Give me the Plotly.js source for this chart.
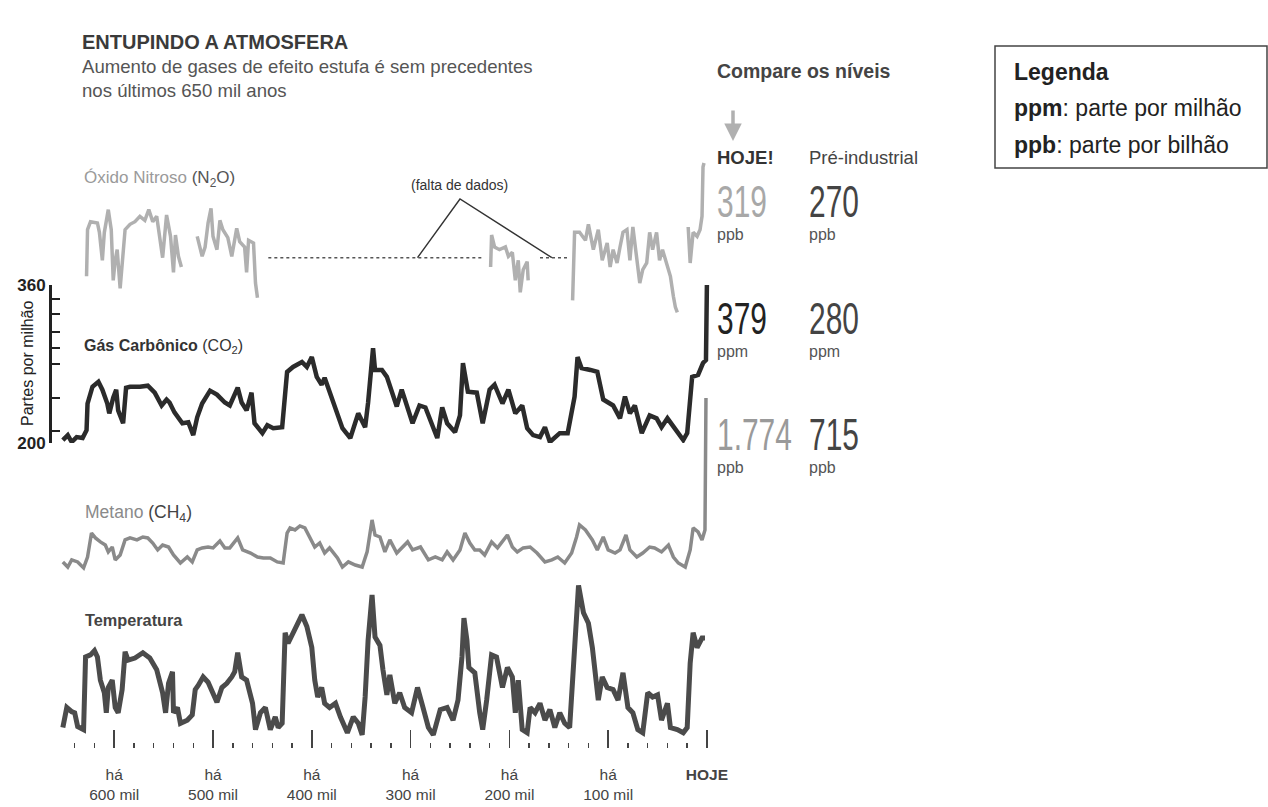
<!DOCTYPE html>
<html>
<head>
<meta charset="utf-8">
<script src="https://cdn.plot.ly/plotly-3.0.1.min.js"></script>
<style>html,body{margin:0;padding:0;background:#fff;}#chart{width:1268px;height:807px;}</style>
</head>
<body>
<div id="chart"></div>
<script>
// ---------- DATA (thousand years ago / values) ----------
const co2Kyr = [652,647,643,638,632,628,627,622,616,612,607,605,601,598,596,591,588,584,574,566,559,552,547,544,539,531,525,520,516,511,503,496,488,483,475,471,466,461,458,450,445,439,430,425,419,410,405,400,395,390,387,379,369,361,353,346,343,338,336,329,324,314,309,298,291,285,273,268,263,255,250,247,242,233,227,220,215,207,201,194,187,182,176,169,164,159,149,141,134,131,127,118,111,105,95,88,83,78,73,66,58,51,46,40,32,24,20,15,9,4,1,0];
const co2Ppm = [203,208,201,206,205,213,240,257,262,254,240,230,246,254,233,220,256,257,257,258,251,238,244,241,231,220,221,208,226,240,253,249,241,238,256,241,233,251,220,210,218,215,216,272,277,282,277,287,267,259,266,243,215,205,230,216,241,296,274,274,267,237,254,220,238,236,205,236,220,211,228,281,252,251,220,254,259,240,254,230,238,215,208,206,216,201,210,210,247,287,276,274,272,244,238,225,247,230,238,210,228,225,216,225,213,203,210,267,269,281,284,365];

const n2oKyr = [628,627,624,617,615,612,610,607,606,603,601,599,597,594,591,589,584,579,574,569,565,561,557,554,551,547,543,540,538,535,532,null,
  516,511,508,505,502,500,496,493,490,485,481,476,473,468,466,464,459,457,455,null,
  219,218,215,210,204,201,197,194,191,189,186,182,181,null,
  136,134,129,123,120,115,110,106,101,98,95,91,88,85,81,78,75,71,68,65,61,58,55,51,48,45,40,37,34,32,30,null,
  19,17,14,10,7,5,4,3];
const n2oPpb = [235,270,276,275,268,247,268,280,285,270,232,247,255,226,255,270,274,276,280,277,285,276,280,265,249,281,265,238,266,250,242,null,
  265,250,257,275,286,265,255,277,270,264,250,271,261,257,238,262,260,230,219,null,
  242,266,257,255,257,250,253,232,247,223,240,246,232,null,
  217,268,268,262,274,255,270,247,260,242,255,245,257,268,270,247,272,247,230,240,245,268,255,268,247,255,242,235,220,212,208,null,
  272,245,268,265,270,280,317,320];
// missing-data stretches of the N2O record
const gapKyr = [444,227,null,169,141];
const gapPpb = [249,249,null,249,249];
const pointerKyr = [293,250,157];
const pointerPpb = [249,293,249];

const ch4Kyr = [652,647,643,637,631,627,623,619,614,609,606,602,599,594,589,584,577,571,566,561,556,551,545,540,533,526,521,516,511,505,500,493,488,483,475,470,462,455,449,442,435,429,425,422,417,412,407,402,397,392,387,382,374,369,363,356,349,344,339,336,331,326,321,314,303,298,290,282,275,268,263,257,250,245,240,235,230,225,218,212,202,197,192,186,179,172,164,157,151,144,137,132,129,123,116,111,105,100,93,88,82,78,71,65,58,53,46,39,34,29,22,17,14,9,5,2,1];
const ch4Ppb = [393,365,404,393,360,420,552,525,503,486,448,475,404,431,514,525,514,530,525,497,459,486,475,431,387,420,393,459,470,475,470,508,470,470,525,459,442,420,415,415,393,387,552,580,569,591,580,530,475,497,442,470,415,365,393,376,365,448,624,541,530,448,514,442,503,459,475,404,420,404,448,404,459,552,497,459,459,431,503,470,541,475,448,470,475,442,393,404,420,387,442,530,596,569,514,459,530,459,442,459,541,459,420,442,475,470,448,486,420,387,365,459,580,558,514,569,1295];

const tKyr = [652,648,643,640,637,631,629,624,620,617,614,610,608,606,602,599,596,592,589,586,579,571,564,557,551,548,545,541,540,536,533,526,521,518,515,510,505,500,496,491,486,481,478,475,471,466,460,457,452,447,442,437,434,430,427,424,419,414,410,405,400,397,394,390,387,382,376,371,364,358,353,349,346,343,339,336,331,328,324,321,316,311,306,299,293,288,282,277,270,263,257,252,248,246,243,241,235,230,227,223,218,213,207,202,197,194,191,187,182,179,174,169,164,159,154,149,144,139,136,132,130,125,120,116,113,110,106,101,95,90,85,80,75,70,65,60,55,50,46,40,37,30,24,20,17,14,10,5,2];
const tVal = [-8.6,-6.7,-7.1,-7.2,-8.5,-8.8,-1.9,-1.7,-1.3,-1.9,-4.1,-5.3,-7.2,-4.8,-4.1,-6.7,-7.2,-5.0,-1.4,-2.2,-2.0,-1.5,-2.0,-3.1,-5.3,-7.2,-4.4,-3.3,-7.2,-6.7,-8.2,-7.9,-7.4,-5.0,-4.6,-3.8,-4.3,-5.3,-6.2,-4.8,-4.4,-3.8,-3.3,-1.5,-3.8,-4.1,-6.3,-8.8,-7.2,-6.7,-8.8,-7.6,-8.6,-8.2,0.4,-0.6,0.4,1.3,2.1,1.0,-1.0,-4.1,-5.7,-4.8,-6.3,-6.7,-6.3,-7.6,-9.1,-7.6,-8.2,-9.3,-5.7,-0.3,4.0,0.0,-0.8,-3.1,-5.5,-3.6,-6.3,-5.3,-6.7,-7.2,-4.8,-6.5,-8.6,-9.3,-6.9,-6.7,-7.9,-6.0,-1.9,1.8,-0.3,-2.9,-3.4,-7.2,-8.8,-6.0,-1.7,-1.9,-4.8,-2.9,-3.8,-7.2,-4.1,-8.8,-9.1,-6.7,-7.2,-6.3,-7.9,-6.9,-8.6,-7.2,-8.2,-8.6,-4.1,2.9,4.9,2.3,1.3,-1.0,-3.4,-6.0,-3.8,-4.8,-5.0,-6.0,-3.4,-6.7,-7.2,-8.8,-9.1,-5.3,-5.7,-5.5,-7.9,-6.3,-8.6,-8.8,-9.1,-8.6,-2.5,0.4,-1.0,-0.1,-0.1];

// axis ticks
const xMajorVals = [600,500,400,300,200,100,0];
const xMajorText = ['há<br>600 mil','há<br>500 mil','há<br>400 mil','há<br>300 mil','há<br>200 mil','há<br>100 mil','<b>HOJE</b>'];
const xMinorVals = [640,620,580,560,540,520,480,460,440,420,380,360,340,320,280,260,240,220,180,160,140,120,80,60,40,20];
const co2TickVals = [200,360];
const co2TickText = ['<b>200</b>','<b>360</b>'];
const co2MinorVals = [212,246,280,296,312,331,346];

// comparison table
const hojeVals = ['319','379','1.774'];
const preVals = ['270','280','715'];
const units = ['ppb','ppm','ppb'];

// ---------- LAYOUT HELPERS ----------
const L = 50, R = 720, T = 150, B = 748;
const px = x => (x - L) / (R - L);
const py = y => (B - y) / (B - T);
const FONT = 'Liberation Sans, Arial, sans-serif';

const traces = [
  {x: gapKyr, y: gapPpb, yaxis: 'y', mode: 'lines', line: {color: '#555', width: 1.5, dash: 'dot'}, connectgaps: false},
  {x: pointerKyr, y: pointerPpb, yaxis: 'y', mode: 'lines', line: {color: '#333', width: 1.4}},
  {x: n2oKyr, y: n2oPpb, yaxis: 'y', mode: 'lines', line: {color: '#b0b0b0', width: 3.5}, connectgaps: false},
  {x: co2Kyr, y: co2Ppm, yaxis: 'y2', mode: 'lines', line: {color: '#2b2b2b', width: 4.5}},
  {x: ch4Kyr, y: ch4Ppb, yaxis: 'y3', mode: 'lines', line: {color: '#8a8a8a', width: 3.5}},
  {x: tKyr, y: tVal, yaxis: 'y4', mode: 'lines', line: {color: '#4b4b4b', width: 5}}
];

function txt(x, y, text, size, color, extra) {
  return Object.assign({xref: 'paper', yref: 'paper', x: px(x), y: py(y), text: text, showarrow: false,
    xanchor: 'left', yanchor: 'middle', align: 'left', font: {family: FONT, size: size, color: color}}, extra || {});
}

const ann = [
  txt(80, 42, '<b>ENTUPINDO A ATMOSFERA</b>', 20, '#3a3a3a'),
  txt(80, 78, 'Aumento de gases de efeito estufa é sem precedentes<br>nos últimos 650 mil anos', 18.6, '#555'),
  txt(82, 179, 'Óxido Nitroso <span style="color:#555">(N<sub>2</sub>O)</span>', 17, '#9a9a9a'),
  txt(82, 346, '<b>Gás Carbônico</b> (CO<sub>2</sub>)', 16, '#333'),
  txt(83, 513, 'Metano <span style="color:#444">(CH<sub>4</sub>)</span>', 17.5, '#8a8a8a'),
  txt(83, 620, '<b>Temperatura</b>', 16.3, '#444'),
  txt(459, 185, '(falta de dados)', 14, '#333', {xanchor: 'center'}),
  txt(27, 364, 'Partes por milhão', 16, '#222', {xanchor: 'center', textangle: -90}),
  txt(715, 71, '<b>Compare os níveis</b>', 19.5, '#444'),
  {xref: 'paper', yref: 'paper', x: px(733), y: py(141), ax: 0, ay: -32, axref: 'pixel', ayref: 'pixel',
   showarrow: true, arrowhead: 2, arrowsize: 1, arrowwidth: 3.5, arrowcolor: '#b0b0b0', text: ''},
  txt(715, 157, '<b>HOJE!</b>', 18.5, '#333'),
  txt(807, 157, 'Pré-industrial', 18.5, '#444'),
  txt(1012, 72, '<b>Legenda</b>', 23, '#222'),
  txt(1012, 108, '<b>ppm</b>: parte por milhão', 23, '#222'),
  txt(1012, 145, '<b>ppb</b>: parte por bilhão', 23, '#222')
];
const rowY = [201, 318, 434];
const hojeColors = ['#a8a8a8', '#222', '#9a9a9a'];
hojeVals.forEach((v, i) => {
  ann.push(txt(715, rowY[i], v, 44, hojeColors[i]));
  ann.push(txt(715, rowY[i] + 33, units[i], 16, '#555'));
  ann.push(txt(807, rowY[i], preVals[i], 44, '#444'));
  ann.push(txt(807, rowY[i] + 33, units[i], 16, '#555'));
});

const layout = {
  width: 1268, height: 807,
  margin: {l: L, r: 1268 - R, t: T, b: 807 - B, pad: 0},
  paper_bgcolor: '#ffffff', plot_bgcolor: 'rgba(0,0,0,0)',
  showlegend: false, hovermode: false,
  font: {family: FONT, color: '#444'},
  xaxis: {
    range: [665, -13.2], anchor: 'y4', showgrid: false, zeroline: false, showline: false,
    tickmode: 'array', tickvals: xMajorVals, ticktext: xMajorText,
    ticks: 'inside', ticklen: 18, tickwidth: 1.5, tickcolor: '#444',
    tickfont: {family: FONT, size: 15.5, color: '#444'}, ticklabelstandoff: 15,
    minor: {tickmode: 'array', tickvals: xMinorVals, ticks: 'inside', ticklen: 5, tickwidth: 1.5, tickcolor: '#444', showgrid: false}
  },
  yaxis: {domain: [py(330), py(150)], range: [194.75, 329.75], visible: false},
  yaxis2: {domain: [py(443), py(285)], range: [200, 360], anchor: 'free', position: 0,
    showline: true, linewidth: 3, linecolor: '#222', showgrid: false, zeroline: false,
    ticks: 'inside', ticklen: 8, tickwidth: 2, tickcolor: '#222',
    tickmode: 'array', tickvals: co2TickVals, ticktext: co2TickText,
    tickfont: {family: FONT, size: 17, color: '#222'},
    minor: {tickmode: 'array', tickvals: co2MinorVals, ticks: 'inside', ticklen: 8, tickwidth: 2, tickcolor: '#222', showgrid: false}},
  yaxis3: {domain: [py(580), py(390)], range: [293.5, 1338.5], visible: false},
  yaxis4: {domain: [0, py(575)], range: [-10.545, 5.885], visible: false},
  annotations: ann,
  shapes: [{type: 'rect', xref: 'paper', yref: 'paper', x0: px(995), x1: px(1267), y0: py(168), y1: py(46),
    line: {color: '#444', width: 1.5}, fillcolor: 'rgba(0,0,0,0)'}]
};

Plotly.newPlot('chart', traces, layout, {displayModeBar: false, staticPlot: true}).then(() => {
  // the reference prints the level numbers in a very condensed face: squeeze them horizontally
  document.querySelectorAll('#chart .annotation-text').forEach(t => {
    if (/^[0-9.]+$/.test(t.textContent.trim())) {
      const bb = t.getBBox();
      t.setAttribute('transform', `translate(${bb.x},0) scale(0.68,1) translate(${-bb.x},0)`);
    }
  });
});
</script>
</body>
</html>
